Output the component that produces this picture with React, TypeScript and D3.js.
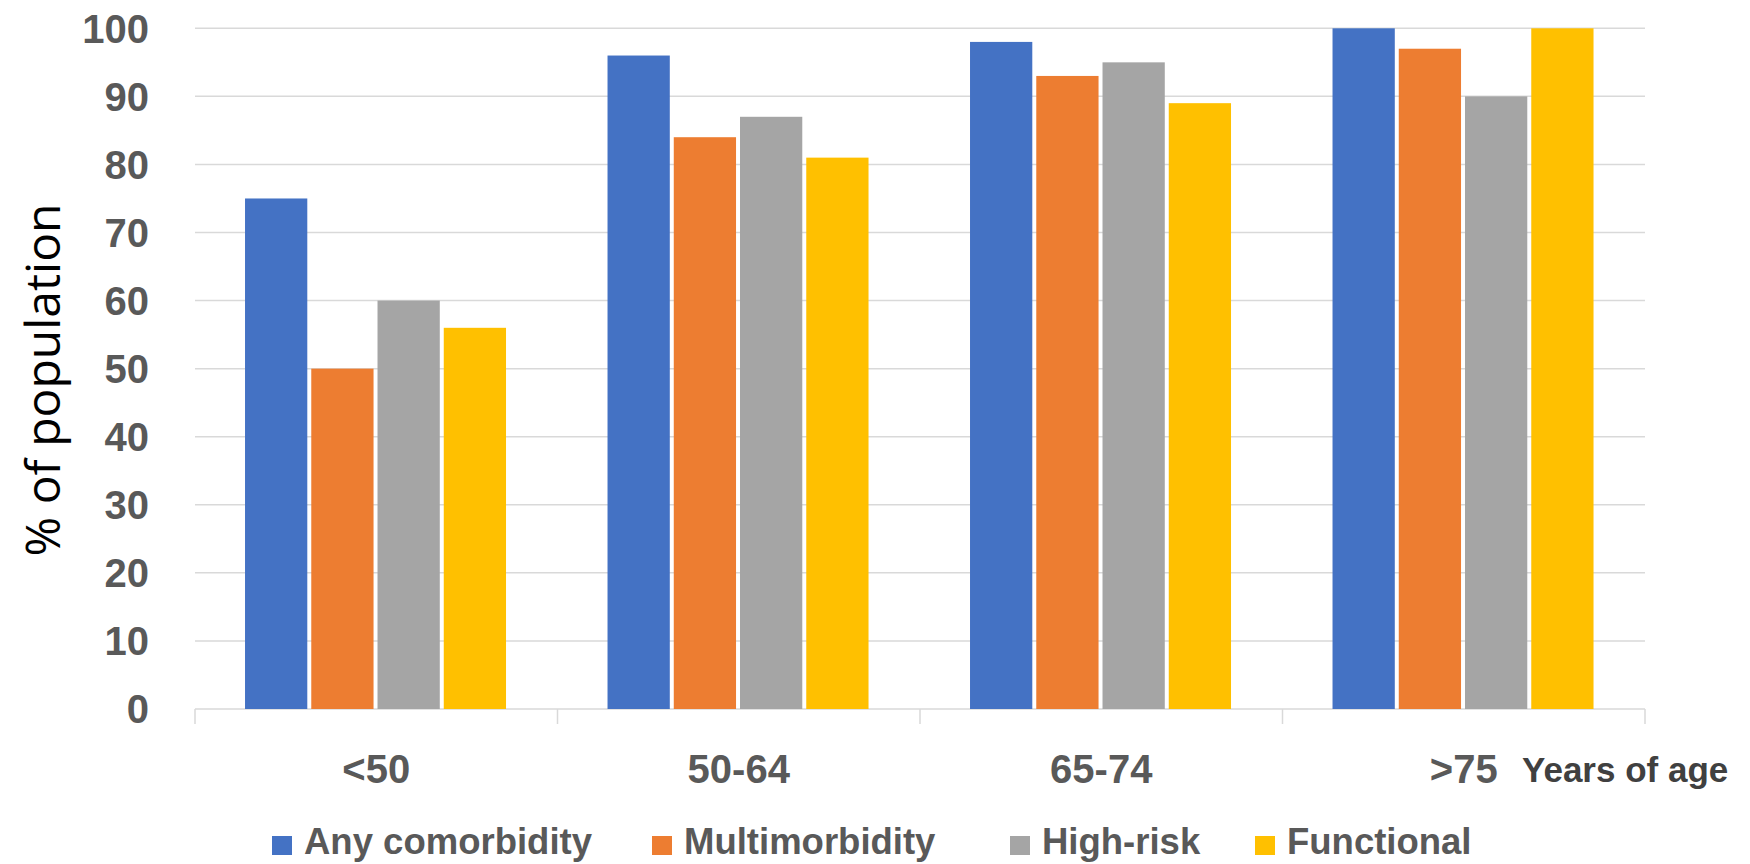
import React from "react";
import * as d3 from "d3";

const categories = ["<50", "50-64", "65-74", ">75"];
const seriesNames = ["Any comorbidity", "Multimorbidity", "High-risk", "Functional"];
const anyComorbidity = [75, 96, 98, 100];
const multimorbidity = [50, 84, 93, 97];
const highRisk = [60, 87, 95, 90];
const functional = [56, 81, 89, 100];
const yTicks = [0, 10, 20, 30, 40, 50, 60, 70, 80, 90, 100];
const colors = ["#4472C4", "#ED7D31", "#A5A5A5", "#FFC000"];
const yTitle = "% of population";
const xTitle = "Years of age";

const seriesValues = [anyComorbidity, multimorbidity, highRisk, functional];

const W = 1750;
const H = 864;
const plotLeft = 195;
const plotRight = 1645;
const plotBottom = 709;
const plotTop = 28.3;
const legendX = [272, 652, 1010, 1255];
const FONT = "'Liberation Sans', Arial, sans-serif";

export default function App() {
  const x0 = d3.scaleBand<string>().domain(categories).range([plotLeft, plotRight]).padding(0);
  const bw = x0.bandwidth();
  const x1 = d3
    .scaleBand<string>()
    .domain(seriesNames)
    .range([bw * 0.138, bw * 0.858])
    .paddingInner(0.06)
    .paddingOuter(0);
  const y = d3.scaleLinear().domain([0, 100]).range([plotBottom, plotTop]);

  const boundaries = [...categories.map((c) => x0(c) as number), plotRight];

  return (
    <svg
      width={W}
      height={H}
      style={{ position: "absolute", left: 0, top: 0, background: "#fff" }}
      fontFamily={FONT}
    >
      <rect x={0} y={0} width={W} height={H} fill="#fff" />
      {/* gridlines */}
      {yTicks.map((t) => (
        <line
          key={"g" + t}
          x1={plotLeft}
          x2={plotRight}
          y1={y(t)}
          y2={y(t)}
          stroke="#d9d9d9"
          strokeWidth={1.5}
        />
      ))}
      {/* category ticks */}
      {boundaries.map((b, i) => (
        <line key={"t" + i} x1={b} x2={b} y1={plotBottom} y2={plotBottom + 15} stroke="#d9d9d9" strokeWidth={1.5} />
      ))}
      {/* bars */}
      {categories.map((c, ci) => (
        <g key={c} transform={`translate(${x0(c)},0)`}>
          {seriesNames.map((s, si) => {
            const v = seriesValues[si][ci];
            return (
              <rect
                key={s}
                x={x1(s)}
                y={y(v)}
                width={x1.bandwidth()}
                height={y(0) - y(v)}
                fill={colors[si]}
              />
            );
          })}
        </g>
      ))}
      {/* y tick labels */}
      {yTicks.map((t) => (
        <text
          key={"yl" + t}
          x={149}
          y={y(t)}
          dy="0.36em"
          textAnchor="end"
          fontSize={40}
          fontWeight="bold"
          fill="#595959"
        >
          {t}
        </text>
      ))}
      {/* category labels */}
      {categories.map((c) => (
        <text
          key={"cl" + c}
          x={(x0(c) as number) + bw / 2}
          y={783}
          textAnchor="middle"
          fontSize={40}
          fontWeight="bold"
          fill="#595959"
        >
          {c}
        </text>
      ))}
      <text x={1522} y={782} fontSize={35} fontWeight="bold" fill="#404040">
        {xTitle}
      </text>
      {/* y title */}
      <text
        transform={`translate(59.5,380) rotate(-90)`}
        textAnchor="middle"
        fontSize={48}
        fontFamily="'Open Sans', sans-serif"
        fill="#000"
      >
        {yTitle}
      </text>
      {/* legend */}
      {seriesNames.map((s, i) => (
        <g key={"lg" + s}>
          <rect x={legendX[i]} y={836} width={20} height={19} fill={colors[i]} />
          <text x={legendX[i] + 32} y={854} fontSize={36.5} fontWeight="bold" fill="#595959">
            {s}
          </text>
        </g>
      ))}
    </svg>
  );
}
